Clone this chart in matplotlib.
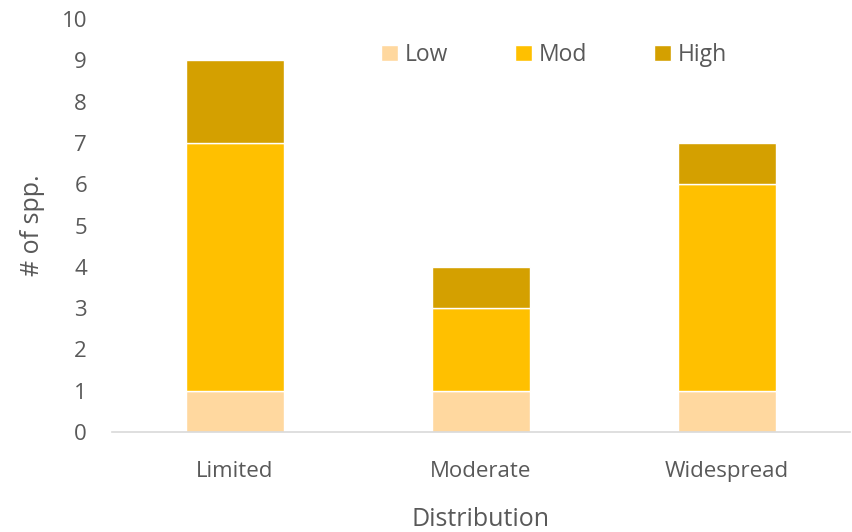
import matplotlib.pyplot as plt
import numpy as np

categories = ['Limited', 'Moderate', 'Widespread']
low = [1, 1, 1]
mod = [6, 2, 5]
high = [2, 1, 1]

plt.rcParams['font.family'] = ['Open Sans', 'DejaVu Sans']
grey = '#595959'

fig = plt.figure(figsize=(8.53, 5.32), dpi=100)
ax = fig.add_axes([112/853, 100/532, 738/853, 413/532])

x = np.arange(len(categories))
w = 0.40
ax.bar(x, low, w, color='#FFD89F', edgecolor='white', linewidth=1, label='Low')
ax.bar(x, mod, w, bottom=low, color='#FFC000', edgecolor='white', linewidth=1, label='Mod')
ax.bar(x, high, w, bottom=np.add(low, mod), color='#D4A000', edgecolor='white', linewidth=1, label='High')

ax.set_xlim(-0.5, 2.5)
ax.set_ylim(0, 10)
ax.set_yticks(range(0, 11))
ax.set_xticks(x)
ax.set_xticklabels(categories)
ax.tick_params(axis='both', length=0, labelsize=16, colors=grey)
ax.tick_params(axis='x', pad=21)
ax.tick_params(axis='y', pad=18)

for s in ['top', 'right', 'left']:
    ax.spines[s].set_visible(False)
ax.spines['bottom'].set_color('#D9D9D9')
ax.spines['bottom'].set_linewidth(1.2)

ax.set_ylabel('# of spp.', fontsize=18, color=grey, labelpad=12)
ax.set_xlabel('Distribution', fontsize=18, color=grey, labelpad=18)

leg = ax.legend(loc='center', bbox_to_anchor=(0.599, 0.913), ncol=3, frameon=False,
                fontsize=16.5, handlelength=0.75, handleheight=0.75, columnspacing=2.9,
                handletextpad=0.3)
for t in leg.get_texts():
    t.set_color(grey)

fig.savefig('out.png', dpi=100)
